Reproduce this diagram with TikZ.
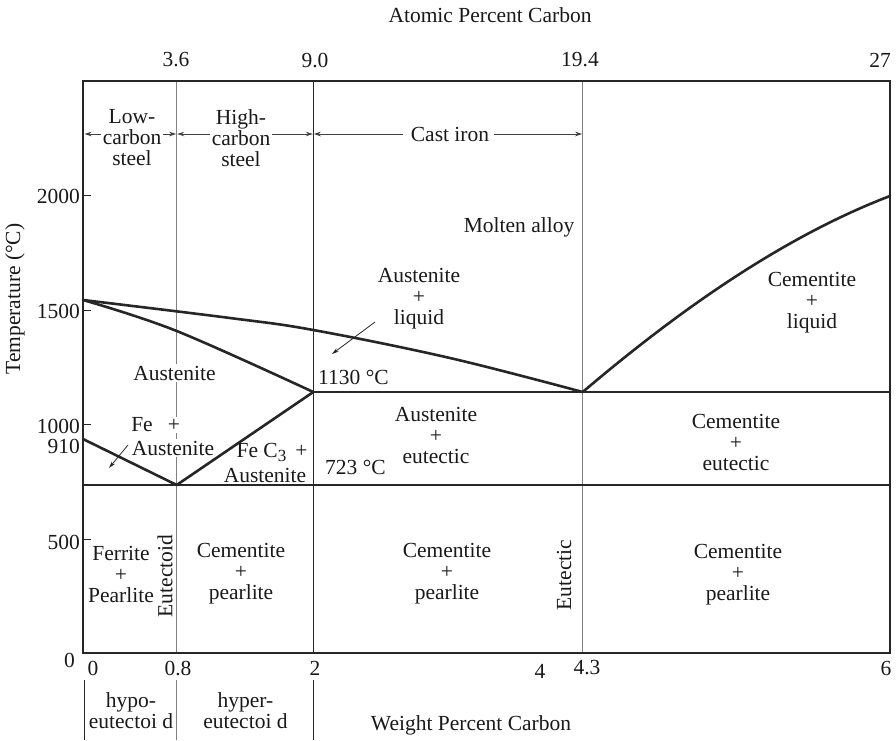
\documentclass[tikz,border=0pt]{standalone}
\usepackage{fontspec}
\setmainfont{Liberation Serif}
\usetikzlibrary{arrows.meta}
\begin{document}
\begin{tikzpicture}[x=1pt,y=-1pt,
  every node/.style={font=\fontsize{21.5}{21}\selectfont, inner sep=0pt, align=center, text=black!90},
  frameline/.style={line width=2.6pt, draw=black!85},
  phase/.style={line width=2.6pt, draw=black!85, line join=round, line cap=round},
  divgray/.style={line width=1pt, draw=black!50},
  divblack/.style={line width=1pt, draw=black!85},
  dimarrow/.style={line width=0.9pt, draw=black!75, -{Stealth[length=7pt,width=4.5pt]}},
  ptr/.style={line width=0.8pt, draw=black!85, -{Stealth[length=7pt,width=4pt]}},
  tickmark/.style={line width=1pt, draw=black!85},
  cover/.style={fill=white, inner sep=1.5pt}
]
\useasboundingbox (0,0) rectangle (896,740);

% row of the range arrows
\coordinate (ay) at (0,134);

% composition dividers
\draw[divgray]  (176.7,81) -- (176.7,653);
\draw[divblack] (313.3,81) -- (313.3,653);
\draw[divgray]  (582.7,81) -- (582.7,653);
\draw[divblack] (84,680) -- (84,740);
\draw[divgray]  (176.7,680) -- (176.7,740);
\draw[divblack] (313.3,680) -- (313.3,740);

% axis titles
\node (atitle) at (490,15) {Atomic Percent Carbon};
\node (wtitle) at (471,725) {Weight Percent Carbon};
\node[rotate=90] (ttitle) at (15,299) {Temperature (°C)};

% atomic percent labels
\node (a36) at (176,60) {3.6};
\node (a90) at (315,60) {9.0};
\node (a194) at (580,60) {19.4};
\node (a27) at (880,60) {27};

% weight percent labels
\node (w0) at (93,668) {0};
\node (w08) at (178,668) {0.8};
\node (w2) at (315,668) {2};
\node (w4) at (540,671) {4};
\node (w43) at (587,668) {4.3};
\node (w6) at (886,668) {6};

% temperature labels and ticks
\node[anchor=east] (t2000) at (80,196) {2000};
\node[anchor=east] (t1500) at (80,311) {1500};
\node[anchor=east] (t1000) at (80,426) {1000};
\node[anchor=east] (t910)  at (80,446) {910};
\node[anchor=east] (t500)  at (80,542) {500};
\node[anchor=east] (t0)    at (75,660) {0};
\foreach \ty in {195,310,424,539}
  \draw[tickmark] (83,\ty) -- (91,\ty);

% steel / cast iron ranges
\node (lowc) at (132,138) {Low-\\carbon\\steel};
\node (highc) at (241,138) {High-\\carbon\\steel};
\node (casti) at (450,134) {Cast iron};
\draw[dimarrow] ([xshift=-2pt]lowc.west |- ay) -- (84.5,134);
\draw[dimarrow] ([xshift=2pt]lowc.east |- ay) -- (176.2,134);
\draw[dimarrow] ([xshift=-2pt]highc.west |- ay) -- (177.2,134);
\draw[dimarrow] ([xshift=2pt]highc.east |- ay) -- (312.8,134);
\draw[dimarrow] ([xshift=-8pt]casti.west) -- (313.8,134);
\draw[dimarrow] ([xshift=5pt]casti.east) -- (582.2,134);

% phase field labels
\node (molten) at (519,227) {Molten alloy};
\node (aliq) at (419,299) {Austenite\\+\\liquid};
\node (cliq) at (812,303) {Cementite\\+\\liquid};
\node[cover] (aus) at (174.5,373) {Austenite};
\node[anchor=west] (t1130) at (318,377) {1130 °C};
\node (aeut) at (436,435) {Austenite\\+\\eutectic};
\node (ceut) at (736,442) {Cementite\\+\\eutectic};
\node (fe) at (142,425) {Fe};
\node[cover] (feplus) at (174,425) {+};
\node[cover] (feaus) at (173,448) {Austenite};
\node (fec) at (272,452.5) {Fe C\raisebox{-0.45ex}{\fontsize{17}{17}\selectfont 3} \,+};
\node (fecaus) at (265,475) {Austenite};
\node[anchor=west] (t723) at (325,467) {723 °C};
\node (fp) at (121,574) {Ferrite\\+\\Pearlite};
\node[rotate=90] (eutd) at (165,576) {Eutectoid};
\node (cp1) at (241,574) {Cementite\\+\\pearlite};
\node (cp2) at (447,574) {Cementite\\+\\pearlite};
\node[rotate=90] (eutc) at (564,575) {Eutectic};
\node (cp3) at (738,575) {Cementite\\+\\pearlite};
\node (hypo) at (131,711) {hypo-\\eutectoi d};
\node (hyper) at (245.5,711) {hyper-\\eutectoi d};

% pointers
\draw[ptr] (375,322) -- (332,354);
\draw[ptr] (128,445) -- (109,468);

% phase boundaries
\coordinate (melt) at (83,300);
\coordinate (eutpt) at (582.7,392);
\coordinate (gamma) at (313.3,392);
\coordinate (eutdpt) at (176.7,485);
\draw[phase] plot[smooth, tension=0.6] coordinates {(83,300) (230,318) (313.3,330) (450,358) (582.7,392)};
\draw[phase] plot[smooth, tension=0.6] coordinates {(83,300) (176.7,331) (313.3,392)};
\draw[phase] (eutpt) .. controls (685,305) and (788,235) .. (890,196);
\draw[phase] (gamma) -- (890,392);
\draw[phase] (83,485) -- (890,485);
\draw[phase] (83,439) -- (eutdpt) -- (gamma);

% frame
\draw[frameline] (83,81) rectangle (890,653);
\end{tikzpicture}
\end{document}
